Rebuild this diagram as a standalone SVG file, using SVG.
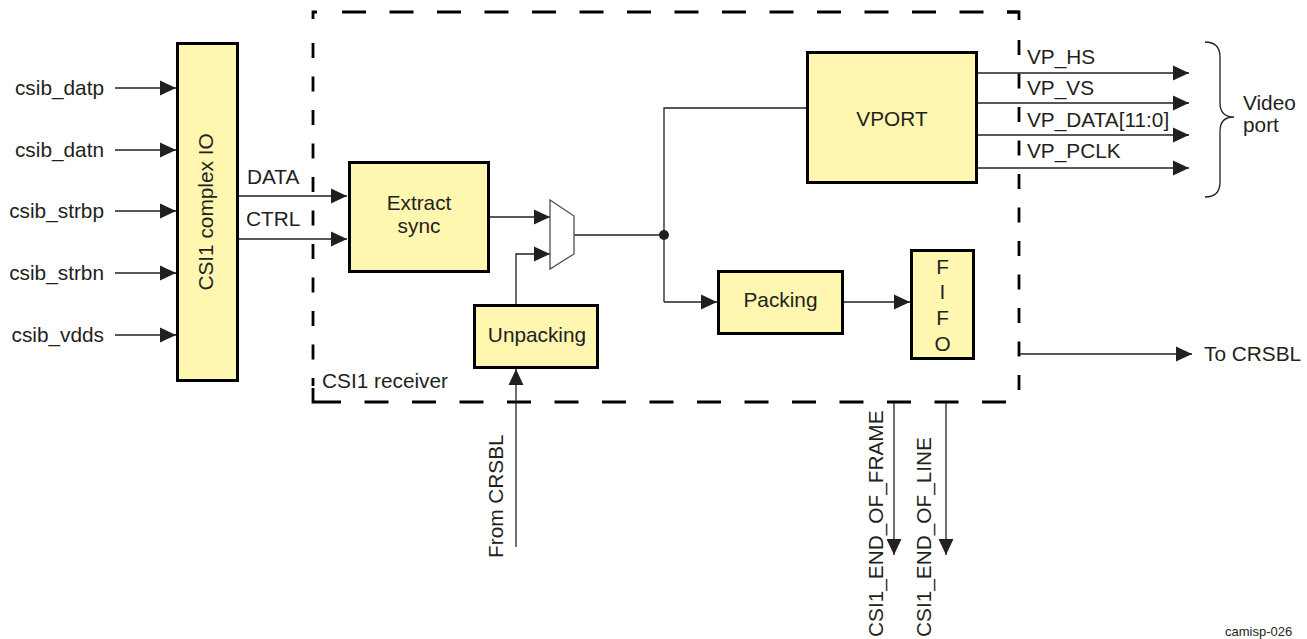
<svg xmlns="http://www.w3.org/2000/svg" width="1307" height="639" viewBox="0 0 1307 639">
<defs>
<marker id="ah" markerUnits="userSpaceOnUse" markerWidth="16" markerHeight="16" viewBox="0 0 15 14" refX="15" refY="7" orient="auto"><path d="M0,0 L15,7 L0,14 z" fill="#231f20"/></marker>
<style>
text{font-family:"Liberation Sans",Arial,sans-serif;font-size:20.8px;fill:#231f20}
.blk{fill:#fff6b0;stroke:#000;stroke-width:3}
.ln{fill:none;stroke:#231f20;stroke-width:1.3}
.ar{fill:none;stroke:#231f20;stroke-width:1.3;marker-end:url(#ah)}
.ds{fill:none;stroke:#000;stroke-width:2.8}
.m{text-anchor:middle}
.e{text-anchor:end}
</style>
</defs>
<rect width="1307" height="639" fill="#fff"/>

<g id="receiver-boundary">
<line class="ds" x1="342" y1="12" x2="1019" y2="12" stroke-dasharray="24 23.5"/>
<path class="ds" d="M313,19 V12 H317"/>
<line class="ds" x1="313" y1="43" x2="313" y2="386" stroke-dasharray="15 18.5"/>
<path class="ds" d="M313,388 V402 H341"/>
<line class="ds" x1="364.5" y1="402" x2="1006" y2="402" stroke-dasharray="24 23.5"/>
<path class="ds" d="M1007,12 H1019 V20"/>
<line class="ds" x1="1019" y1="40" x2="1019" y2="392" stroke-dasharray="15 18.5"/>
<text x="322" y="388">CSI1 receiver</text>
</g>

<g id="connectors">
<line class="ar" x1="115" y1="88" x2="176" y2="88"/>
<line class="ar" x1="115" y1="150" x2="176" y2="150"/>
<line class="ar" x1="115" y1="211" x2="176" y2="211"/>
<line class="ar" x1="115" y1="273" x2="176" y2="273"/>
<line class="ar" x1="115" y1="335" x2="176" y2="335"/>
<line class="ar" x1="239" y1="196" x2="347" y2="196"/>
<line class="ar" x1="239" y1="239" x2="347" y2="239"/>
<line class="ar" x1="490" y1="217" x2="550" y2="217"/>
<path class="ar" d="M516,304 V254 H550"/>
<line class="ln" x1="574" y1="235" x2="664" y2="235"/>
<path class="ln" d="M806,108 H664 V302"/>
<circle cx="664" cy="235" r="5" fill="#231f20"/>
<line class="ar" x1="664" y1="302" x2="717" y2="302"/>
<line class="ar" x1="844" y1="302" x2="910" y2="302"/>
<line class="ar" x1="516" y1="547" x2="516" y2="369"/>
<line class="ar" x1="978" y1="73" x2="1189" y2="73"/>
<line class="ar" x1="978" y1="103" x2="1189" y2="103"/>
<line class="ar" x1="978" y1="135" x2="1189" y2="135"/>
<line class="ar" x1="978" y1="168" x2="1189" y2="168"/>
<line class="ar" x1="1020" y1="354" x2="1192" y2="354"/>
<line class="ar" x1="894" y1="402" x2="894" y2="555"/>
<line class="ar" x1="946" y1="402" x2="946" y2="555"/>
<path class="ln" d="M1205,42 Q1220,42 1220,57 V103 Q1220,117 1234,117 Q1220,117 1220,131 V182 Q1220,197 1205,197"/>
</g>

<g id="labels">
<text class="e" x="104" y="95">csib_datp</text>
<text class="e" x="104" y="157">csib_datn</text>
<text class="e" x="104" y="218">csib_strbp</text>
<text class="e" x="104" y="280">csib_strbn</text>
<text class="e" x="104" y="342">csib_vdds</text>
<text x="247" y="184">DATA</text>
<text x="246" y="226">CTRL</text>
<text x="1027" y="63.5">VP_HS</text>
<text x="1027" y="94.5">VP_VS</text>
<text x="1027" y="126.5">VP_DATA[11:0]</text>
<text x="1027" y="157.5">VP_PCLK</text>
<text x="1243" y="110">Video</text>
<text x="1243" y="132">port</text>
<text x="1204" y="361">To CRSBL</text>
<text transform="translate(503,558) rotate(-90)">From CRSBL</text>
<text transform="translate(883,637) rotate(-90)">CSI1_END_OF_FRAME</text>
<text transform="translate(931,637) rotate(-90)">CSI1_END_OF_LINE</text>
<text x="1225" y="636" style="font-size:13px">camisp-026</text>
</g>

<g id="csi1-complex-io">
<rect class="blk" x="177.5" y="43.5" width="60" height="337"/>
<text class="m" transform="translate(213,212) rotate(-90)">CSI1 complex IO</text>
</g>

<g id="extract-sync">
<rect class="blk" x="349.5" y="162.5" width="139" height="109"/>
<text class="m" x="419" y="210">Extract</text>
<text class="m" x="419" y="233">sync</text>
</g>

<g id="mux">
<polygon points="550,200 574,216 574,254 550,269" fill="#fff" stroke="#4d4d4f" stroke-width="1.3"/>
</g>

<g id="unpacking">
<rect class="blk" x="474.5" y="305.5" width="123" height="62"/>
<text class="m" x="537" y="342">Unpacking</text>
</g>

<g id="vport">
<rect class="blk" x="807.5" y="52.5" width="169" height="130"/>
<text class="m" x="892" y="126">VPORT</text>
</g>

<g id="packing">
<rect class="blk" x="718.5" y="271.5" width="124" height="62"/>
<text class="m" x="780.5" y="307">Packing</text>
</g>

<g id="fifo">
<rect class="blk" x="911.5" y="250.5" width="62" height="108"/>
<text class="m" x="942.5" y="274">F</text>
<text class="m" x="942.5" y="299">I</text>
<text class="m" x="942.5" y="325">F</text>
<text class="m" x="942.5" y="351">O</text>
</g>
</svg>
